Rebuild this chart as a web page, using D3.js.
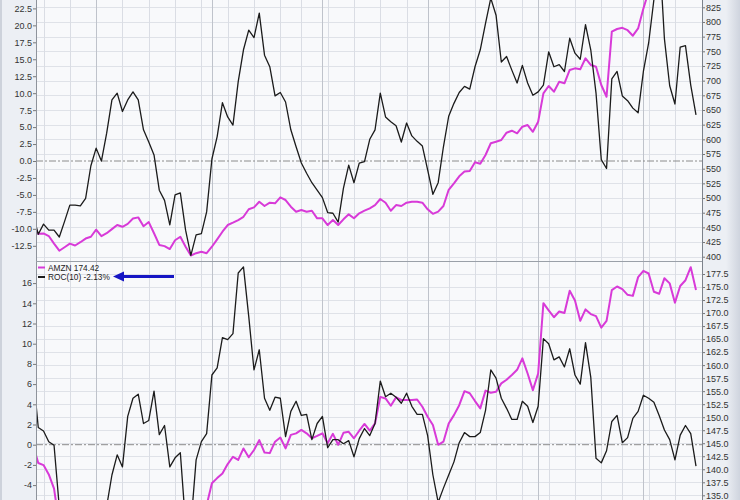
<!DOCTYPE html>
<html><head><meta charset="utf-8">
<script src="https://cdn.jsdelivr.net/npm/d3@7"></script>
<style>body{margin:0;background:#fff}svg{display:block}</style>
</head><body><svg id="c" width="740" height="500"></svg>
<script>
// ---- data (one value per trading day, first point lies just left of the axis) ----
const topRoc = [-7.8,-10.8,-9.3,-10.2,-10.2,-11.2,-8.9,-6.5,-6.5,-6.6,-5.5,-0.7,1.9,0.0,4.1,9.0,10.0,7.3,9.0,10.2,
9.0,4.6,2.8,0.9,-4.3,-5.8,-9.4,-5.0,-4.7,-10.2,-13.9,-10.9,-10.7,-7.5,0.3,3.6,8.6,6.5,5.3,11.7,
16.4,19.3,18.2,21.8,15.6,13.9,9.6,10.1,8.7,4.6,2.1,-0.3,-1.8,-3.2,-4.3,-5.4,-7.6,-7.7,-9.0,-4.0,
-0.6,-3.2,-0.3,-0.1,3.2,4.6,10.0,6.5,5.8,5.2,2.8,5.6,3.7,2.9,2.2,-1.3,-4.9,-3.2,2.1,6.6,
8.5,10.1,11.0,10.6,13.9,16.4,20.3,24.0,21.5,14.6,15.4,13.4,11.5,14.1,11.5,9.7,10.2,11.2,16.1,13.9,
14.2,13.2,18.1,15.9,15.0,20.1,16.4,10.0,0.2,-1.1,12.1,13.2,9.6,8.9,7.8,7.1,13.2,17.4,23.8,31.5,
18.0,11.1,8.4,16.8,17.0,11.2,6.8];
const topPrice = [455.7,439.0,439.7,435.2,422.4,410.2,416.1,422.2,419.1,424.7,430.9,434,446,435,440,447,454,451,456,465,
467,452,459,440,420,418,413,428,434,417,402,406,408.5,406,417,429.6,442.6,454,458,462.5,
468,480.8,484,493.7,486.4,492,491,501.2,496.6,485.2,476.7,479.6,476.7,478.4,465.4,465.4,454,462.5,454,463.7,
472.2,465.4,474,478.4,482.5,488,498.3,492,478.4,488,486.4,492,493.7,493.7,492,480.8,473,476.7,486.4,514,
525,537,545,546,561,558.5,573.3,593.3,596,598.9,611.3,614.7,610.3,621.5,624.4,612.9,630,678.4,690.9,681.2,
698.2,695.5,718.2,721,719.3,738.1,726.7,723.8,692.6,672.6,783.4,788,790,786,776.6,789,822.8,852.4,859.6,887.0,
926.7,875.3,857.7,919.1,908.9,879.4,878.4];
const amznRoc = [7.1,1.7,1.35,0.3,-0.05,-6.2,-6.6,-8.3,-10.8,-13.0,-13.0,-9.5,-7.5,-9.4,-6.1,-3.0,-1.0,-2.2,2.8,4.6,
5.0,2.1,2.4,5.3,1.0,1.9,-2.2,-1.3,-0.8,-7.9,-8.0,-1.5,0.3,1.1,6.9,7.6,10.6,10.4,11.0,17.0,
17.6,12.7,7.4,9.4,4.6,3.4,4.7,4.6,0.8,3.3,4.3,2.9,3.0,0.5,2.1,2.8,-0.3,0.5,0.5,0.1,
0.4,-1.2,0.6,1.6,0.9,2.1,6.3,4.75,5.1,4.7,4.1,5.1,3.8,3.0,3.0,0.9,-3.0,-5.7,-4.3,-3.0,
-1.7,0.2,1.2,0.8,0.8,1.2,3.4,7.4,6.6,4.6,3.6,2.5,2.5,4.3,3.8,2.2,3.8,10.5,10.0,8.4,
8.7,7.7,9.5,6.9,6.0,10.1,6.7,-1.35,-1.8,-0.6,2.3,2.9,0.2,0.7,2.6,3.3,4.9,4.6,4.2,2.9,
1.45,0.5,-1.5,0.95,1.9,1.1,-2.13];
const amznPrice = [144.7,141.2,140.8,139.0,136.3,129.3,129.1,131.3,126.0,125.5,126.5,127.1,129.5,124.7,127.0,126.0,128.0,128.3,129.5,131.8,
130.0,128.0,132.6,131.5,128.1,128.4,125.2,126.6,128.6,121.4,119.6,127.7,132.7,133.1,137.3,138.3,139.2,141.0,142.4,141.8,
144.0,142.3,143.7,145.6,143.2,143.1,145.3,146.1,144.0,146.6,146.9,147.55,146.9,145.95,146.4,146.9,145.0,146.8,144.7,147.0,
147.2,145.95,147.4,148.7,147.4,148.8,153.9,153.6,152.2,153.8,153.3,153.3,153.3,153.4,152.0,150.1,148.5,144.7,145.3,148.8,
150.4,152.3,155.0,154.6,153.1,151.7,155.1,154.7,154.9,156.5,157.2,158.1,159.1,161.3,158.4,155.2,158.4,171.9,170.5,169.2,
170.3,170.0,174.3,172.4,168.5,170.7,169.8,169.4,167.2,168.5,174.4,175.1,174.6,173.5,173.3,176.9,178.1,177.6,174.1,173.7,
176.7,175.7,172.0,175.2,176.3,178.8,174.42];
const weekIdx = [2,7,17,22,27,32,37,42,47,51,56,61,66,71,79,84,88,93,98,103,108,112,117,122];
const monthIdx = [12,34,55,75,96,116];
const topLeftTicks = d3.range(-12.5, 22.51, 2.5);
const topRightTicks = d3.range(400, 826, 25);
const botLeftTicks = d3.range(-4, 17, 2);
const botRightTicks = d3.range(135, 177.6, 2.5);
const legendLabels = ["AMZN 174.42", "ROC(10) -2.13%"];

// ---- layout ----
const svg = d3.select("#c");
const PL = 36, PR = 702;
const pink = "#d83ad8", ink = "#1b1b1b";
const defs = svg.append("defs");
const g1 = defs.append("linearGradient").attr("id","edge").attr("x1","0").attr("x2","1");
g1.append("stop").attr("offset","0").attr("stop-color","#eceff4");
g1.append("stop").attr("offset","1").attr("stop-color","#cfd4de");

svg.append("rect").attr("width",740).attr("height",500).attr("fill","#eceff4");
svg.append("rect").attr("x",0).attr("width",2).attr("height",500).attr("fill","#cdd2db");
svg.append("rect").attr("x",726).attr("width",14).attr("height",500).attr("fill","url(#edge)");

const x = d3.scaleLinear().domain([0,126]).range([33,696]);

const panels = [
  {id:"p1", y0:-30, y1:261, L:d3.scaleLinear().domain([-12.5,22.5]).range([245.8,8.4]),
   R:d3.scaleLinear().domain([400,825]).range([256.7,7.3]), lt:topLeftTicks, rt:topRightTicks,
   roc:topRoc, price:topPrice, lf:d=>d.toFixed(1), rf:d=>String(d)},
  {id:"p2", y0:262, y1:530, L:d3.scaleLinear().domain([-4,16]).range([485.1,283.1]),
   R:d3.scaleLinear().domain([135,177.5]).range([495.3,274]), lt:botLeftTicks, rt:botRightTicks,
   roc:amznRoc, price:amznPrice, lf:d=>String(d), rf:d=>d.toFixed(1)}
];

panels.forEach(p => {
  defs.append("clipPath").attr("id","clip"+p.id).append("rect")
    .attr("x",PL).attr("y",p.y0).attr("width",PR-PL).attr("height",p.y1-p.y0);
  const g = svg.append("g").attr("clip-path","url(#clip"+p.id+")");
  g.append("rect").attr("x",PL).attr("y",p.y0).attr("width",PR-PL).attr("height",p.y1-p.y0).attr("fill","#f8f9fb");
  // horizontal grid at price-axis ticks
  g.selectAll(".hg").data(p.rt).join("line")
    .attr("x1",PL).attr("x2",PR).attr("y1",d=>Math.round(p.R(d))+0.5).attr("y2",d=>Math.round(p.R(d))+0.5)
    .attr("stroke","#dfe2e8").attr("stroke-width",1);
  g.selectAll(".wg").data(weekIdx).join("line")
    .attr("x1",d=>Math.round(x(d))+0.5).attr("x2",d=>Math.round(x(d))+0.5).attr("y1",p.y0).attr("y2",p.y1)
    .attr("stroke","#dadde4").attr("stroke-width",1);
  g.selectAll(".mg").data(monthIdx).join("line")
    .attr("x1",d=>Math.round(x(d))+0.5).attr("x2",d=>Math.round(x(d))+0.5).attr("y1",p.y0).attr("y2",p.y1)
    .attr("stroke","#bfc3cb").attr("stroke-width",1);
  // zero line
  g.append("line").attr("x1",PL).attr("x2",PR).attr("y1",p.L(0)).attr("y2",p.L(0))
    .attr("stroke","#8c8c8c").attr("stroke-width",1).attr("stroke-dasharray","7,2,2,2");
  g.append("path").datum(p.price)
    .attr("d", d3.line().x((d,i)=>x(i)).y(d=>p.R(d)))
    .attr("fill","none").attr("stroke",pink).attr("stroke-width",2).attr("stroke-linejoin","round");
  g.append("path").datum(p.roc)
    .attr("d", d3.line().x((d,i)=>x(i)).y(d=>p.L(d)))
    .attr("fill","none").attr("stroke",ink).attr("stroke-width",1.3).attr("stroke-linejoin","round");

  const la = svg.append("g").attr("transform","translate("+PL+",0)")
    .call(d3.axisLeft(p.L).tickValues(p.lt).tickSize(3).tickPadding(1).tickFormat(p.lf));
  const ra = svg.append("g").attr("transform","translate("+PR+",0)")
    .call(d3.axisRight(p.R).tickValues(p.rt).tickSize(3).tickPadding(1).tickFormat(p.rf));
  [la,ra].forEach(a => {
    a.select(".domain").remove();
    a.selectAll("line").attr("stroke","#777");
    a.selectAll("text").attr("fill","#333").style("font-family","'Liberation Sans', Arial, sans-serif").style("font-size","9px");
  });
});

// axis lines and panel separator
svg.append("line").attr("x1",PL+0.5).attr("x2",PL+0.5).attr("y1",0).attr("y2",500).attr("stroke","#8e939b");
svg.append("line").attr("x1",PR+0.5).attr("x2",PR+0.5).attr("y1",0).attr("y2",500).attr("stroke","#7c828b");
svg.append("line").attr("x1",PL).attr("x2",PR).attr("y1",261.5).attr("y2",261.5).attr("stroke","#9aa0a8");

// legend
const lg = svg.append("g");
legendLabels.forEach((t,i) => {
  const yy = 267.5 + i*9.5;
  lg.append("line").attr("x1",38).attr("x2",45).attr("y1",yy).attr("y2",yy)
    .attr("stroke", i===0?pink:ink).attr("stroke-width",2);
  lg.append("text").attr("x",48).attr("y",yy+3).text(t)
    .attr("fill","#222").style("font-family","'Liberation Sans', Arial, sans-serif").style("font-size","8.3px");
});
// arrow pointing at the ROC legend entry
lg.append("line").attr("x1",121).attr("x2",174).attr("y1",276.5).attr("y2",276.5)
  .attr("stroke","#1616c4").attr("stroke-width",3);
lg.append("path").attr("d","M113,276.5 L124,271.5 L124,281.5 Z").attr("fill","#1616c4");
</script></body></html>
